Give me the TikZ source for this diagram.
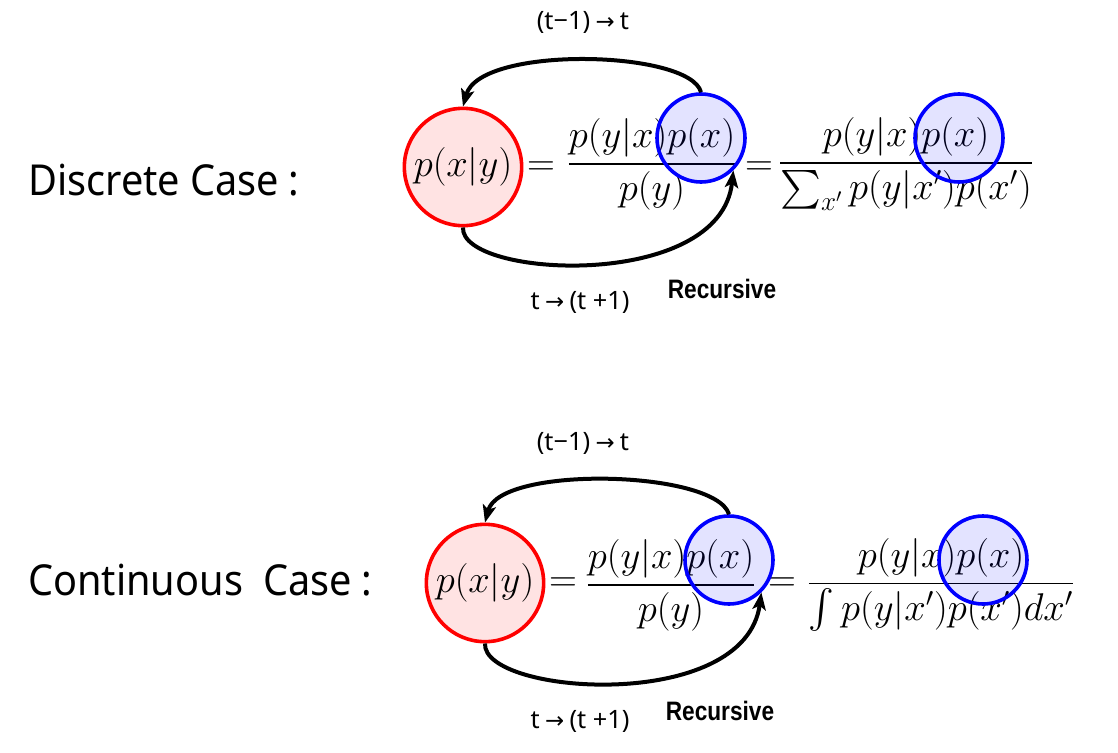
\RequirePackage{fix-cm}
\documentclass[tikz,border=0pt]{standalone}
\usepackage{amssymb}
\usepackage{amsmath}
\usepackage{fontspec}
\setmainfont{Noto Sans}
\newfontfamily\casefont{Noto Sans}[FakeStretch=0.93]
\newfontfamily\recfont{Liberation Sans}[FakeStretch=0.85]
\newfontfamily\arrowfont{DejaVu Sans}
\usepackage{tikz}
\usetikzlibrary{arrows.meta}

\newcommand{\tarrow}{\hspace{4pt}{\arrowfont\scalebox{0.9}{→}}\hspace{4pt}}

\begin{document}
\begin{tikzpicture}[x=0.75pt,y=0.75pt,yscale=-1,xscale=1,
  casetext/.style={anchor=west,inner sep=0pt,font=\casefont\fontsize{32}{38}\selectfont},
  mathtext/.style={inner sep=0pt,font=\fontsize{29}{35}\selectfont},
  steptext/.style={inner sep=0pt,font=\fontsize{19}{22}\selectfont},
  rectext/.style={inner sep=0pt,font=\recfont\bfseries\fontsize{20}{23}\selectfont},
  postcirc/.style={circle,draw={rgb,255:red,255;green,0;blue,0},line width=2.7pt,
    fill={rgb,255:red,255;green,0;blue,0},fill opacity=0.11,text opacity=1,
    minimum size=88pt,inner sep=0pt,font=\fontsize{29}{35}\selectfont},
  priorcirc/.style={circle,draw={rgb,255:red,0;green,0;blue,255},line width=2.7pt,
    fill={rgb,255:red,0;green,0;blue,255},fill opacity=0.11,minimum size=66pt,inner sep=0pt},
  loop/.style={line width=3pt,-{Stealth[length=13pt,width=10pt,inset=3pt]}}
]
\useasboundingbox (0,0) rectangle (1118,753);

%Discrete case
\node[casetext] (dcase) at (28,180) {Discrete Case\hspace{-1pt} :};
\node[postcirc] (post1) at (463,167) {$p(x|y)$};
\node[mathtext] (eqa1) at (541,169) {$=$};
\node[mathtext] (frac1) at (652,164) {$\dfrac{p(y|x)p(x)}{p(y)}$};
\node[mathtext] (eqb1) at (759,169) {$=$};
\node[mathtext] (frac1b) at (906,164) {$\dfrac{p(y|x)p(x)}{\textstyle\sum_{x'}p(y|x')p(x')}$};
\node[priorcirc] (prior1) at (701,138) {};
\node[priorcirc] (prior1b) at (959,138) {};
% arrows
\draw[loop] (prior1.north) .. controls (690,50) and (480,45) .. (post1.north);
\draw[loop] (post1.south) .. controls (460,278) and (720,292) .. (prior1.-45);
% Text Node
\node[steptext] (back1) at (583,22) {(t−1)\tarrow t};
\node[steptext] (fwd1) at (580,302) {t\tarrow(t +1)};
\node[rectext] (rec1) at (722,289) {Recursive};

%Continuous case
\node[casetext] (ccase) at (28,580) {Continuous\ \ Case\hspace{-1pt} :};
\node[postcirc] (post2) at (485,583) {$p(x|y)$};
\node[mathtext] (eqa2) at (563,585) {$=$};
\node[mathtext] (frac2) at (671,585) {$\dfrac{p(y|x)p(x)}{p(y)}$};
\node[mathtext] (eqb2) at (782,585) {$=$};
\node[mathtext] (frac2b) at (941,585) {$\dfrac{p(y|x)p(x)}{\textstyle\int p(y|x')p(x')dx'}$};
\node[priorcirc] (prior2) at (729,560) {};
\node[priorcirc] (prior2b) at (983,560) {};
% arrows
\draw[loop] (prior2.north) .. controls (715,470) and (500,465) .. (post2.north);
\draw[loop] (post2.south) .. controls (482,695) and (745,714) .. (prior2.-45);
% Text Node
\node[steptext] (back2) at (583,443) {(t−1)\tarrow t};
\node[steptext] (fwd2) at (580,721) {t\tarrow(t +1)};
\node[rectext] (rec2) at (720,711) {Recursive};

\end{tikzpicture}
\end{document}
